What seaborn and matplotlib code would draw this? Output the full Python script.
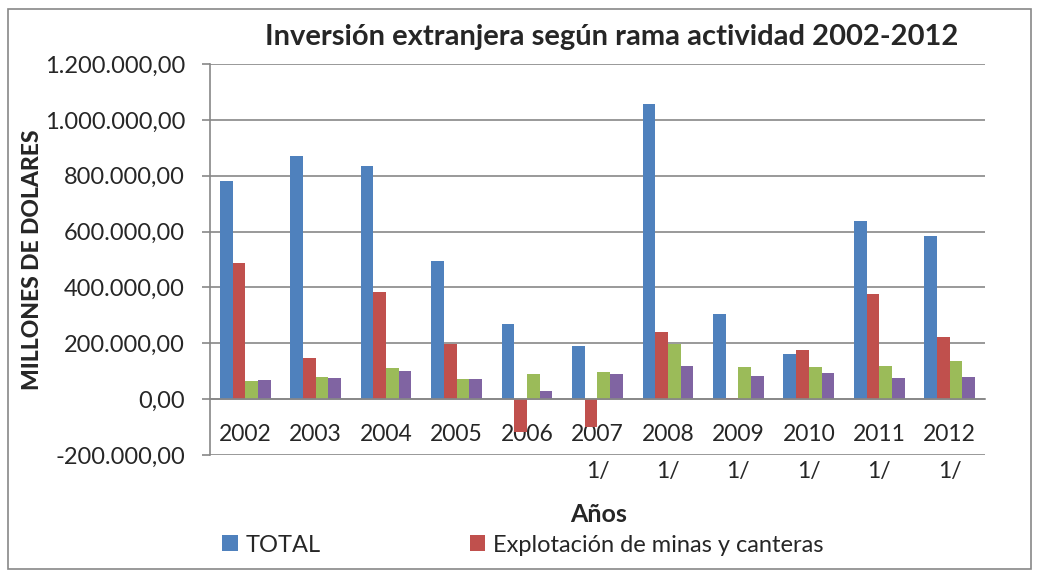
import matplotlib
matplotlib.use("Agg")
import matplotlib.pyplot as plt
import matplotlib.patches as mpatches
import numpy as np
import pandas as pd
import seaborn as sns


YEARS = ["2002", "2003", "2004", "2005", "2006", "2007", "2008", "2009", "2010", "2011", "2012"]
YEAR_LABELS = ["2002", "2003", "2004", "2005", "2006", "2007\n1/", "2008\n1/", "2009\n1/", "2010\n1/", "2011\n1/", "2012\n1/"]
SERIES = ["TOTAL", "Explotación de minas y canteras", "Serie 3", "Serie 4"]

total = [781000, 871000, 836000, 493000, 270000, 192000, 1057000, 304000, 162000, 637000, 585000]
minas = [487000, 147000, 383000, 197000, -117000, -100000, 242000, 5000, 177000, 378000, 223000]
serie3 = [64000, 78000, 112000, 74000, 89000, 97000, 197000, 116000, 116000, 118000, 137000]
serie4 = [69000, 76000, 101000, 72000, 31000, 91000, 119000, 82000, 94000, 76000, 80000]

COLORS = ["#4F81BD", "#C0504D", "#9BBB59", "#8064A2"]
GRID = "#878787"


def build_frame() -> pd.DataFrame:
    rows = []
    for name, values in zip(SERIES, [total, minas, serie3, serie4]):
        for year, v in zip(YEARS, values):
            rows.append({"Año": year, "serie": name, "valor": v})
    return pd.DataFrame(rows)


def fmt_es(v, _pos=None):
    s = f"{v:,.2f}"
    return s.replace(",", "X").replace(".", ",").replace("X", ".")


sns.set_style("white")
plt.rcParams["font.family"] = ["Lato", "DejaVu Sans"]

fig = plt.figure(figsize=(10.38, 5.72), dpi=100)
ax = fig.add_axes([0.2023, 0.2045, 0.7466, 0.6835])

df = build_frame()
sns.barplot(data=df, x="Año", y="valor", hue="serie", palette=COLORS, width=0.72,
            gap=0, saturation=1, linewidth=0, ax=ax, legend=True)

ax.set_ylim(-200000, 1200000)
ax.set_xlim(-0.5, len(YEARS) - 0.5)
ax.set_yticks(np.arange(-200000, 1200001, 200000))
ax.yaxis.set_major_formatter(plt.FuncFormatter(fmt_es))
ax.yaxis.grid(True, color=GRID, linewidth=1.2)
ax.set_axisbelow(True)

for side in ["top", "right"]:
    ax.spines[side].set_visible(False)
ax.spines["left"].set_color(GRID)
ax.spines["left"].set_linewidth(1.2)
ax.spines["bottom"].set_position(("data", 0))
ax.spines["bottom"].set_color(GRID)
ax.spines["bottom"].set_linewidth(1.2)

ax.set_xticks(range(len(YEARS)))
ax.set_xticklabels(YEAR_LABELS)
ax.set_xticks(np.arange(-0.5, len(YEARS), 1.0), minor=True)
ax.tick_params(axis="x", which="major", length=0, pad=18, labelsize=16.5)
ax.tick_params(axis="x", which="minor", length=6, width=1.2, color=GRID, direction="out")
ax.tick_params(axis="y", which="major", length=6, width=1.2, color=GRID, direction="out",
               left=True, labelsize=17, pad=12)
for t in ax.get_xticklabels():
    t.set_linespacing(1.95)
    t.set_verticalalignment("top")

ax.set_xlabel("")
ax.set_ylabel("MILLONES DE DOLARES", fontsize=16.5, fontweight="black", labelpad=1)
fig.text(0.577, 0.10, "Años", ha="center", va="center", fontsize=18, fontweight="bold")
fig.text(0.589, 0.935, "Inversión extranjera según rama actividad 2002-2012",
         ha="center", va="center", fontsize=21, fontweight="bold")

handles, labels = ax.get_legend_handles_labels()
ax.legend_.remove()
fig.legend(handles[:2], labels[:2], loc="center left", bbox_to_anchor=(0.205, 0.047),
           ncol=2, frameon=False, fontsize=17, handlelength=0.65, handleheight=0.65,
           handletextpad=0.35, columnspacing=6.3, borderaxespad=0)

fig.patches.append(mpatches.Rectangle((0.008, 0.006), 0.985, 0.978, transform=fig.transFigure,
                                      fill=False, edgecolor=GRID, linewidth=1.2))

fig.savefig("out.png", dpi=100)
